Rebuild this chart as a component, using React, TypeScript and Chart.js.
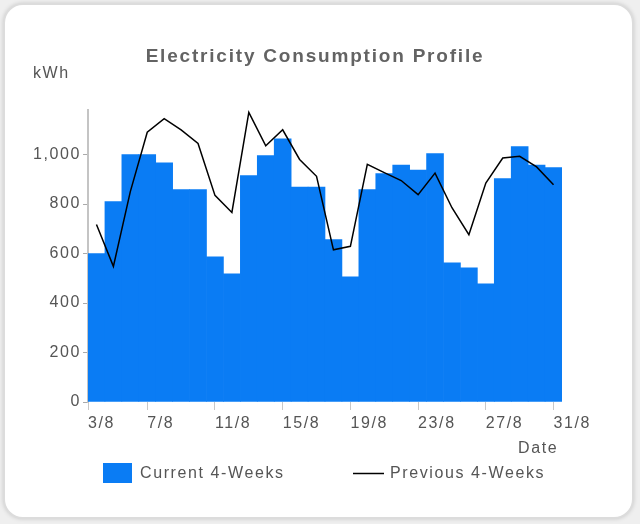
import React, { useEffect, useRef } from 'react';
import { Chart, registerables } from 'chart.js';

Chart.register(...registerables);

// ---- data ----
const days = [4, 5, 6, 7, 8, 9, 10, 11, 12, 13, 14, 15, 16, 17, 18, 19, 20, 21, 22, 23, 24, 25, 26, 27, 28, 29, 30, 31];
const currentKWh = [600, 810, 1000, 1000, 967, 858, 858, 587, 518, 915, 996, 1063, 869, 869, 656, 506, 858, 923, 957, 937, 1004, 562, 542, 478, 903, 1032, 957, 947];
const previousKWh = [717, 548, 850, 1090, 1145, 1100, 1045, 835, 766, 1170, 1035, 1100, 980, 912, 615, 629, 960, 927, 895, 838, 925, 785, 676, 885, 986, 993, 950, 878];
const xTickDays = [3, 7, 11, 15, 19, 23, 27, 31];
const xTickLabels = ['3/8', '7/8', '11/8', '15/8', '19/8', '23/8', '27/8', '31/8'];
const yTickValues = [0, 200, 400, 600, 800, 1000];
const seriesNames = ['Current 4-Weeks', 'Previous 4-Weeks'];
const titleText = 'Electricity Consumption Profile';
const yAxisTitle = 'kWh';
const xAxisTitle = 'Date';

const BAR_COLOR = '#0a7cf4';
const FONT = '"Liberation Sans", Arial, sans-serif';
const TEXT_COLOR = '#555555';

const decorPlugin = {
  id: 'decor',
  beforeDraw(chart: any) {
    chart.ctx.letterSpacing = '1.6px';
  },
  afterDraw(chart: any) {
    const ctx = chart.ctx;
    const area = chart.chartArea;
    ctx.save();
    ctx.letterSpacing = '1.8px';
    ctx.font = `bold 19px ${FONT}`;
    ctx.fillStyle = '#636363';
    ctx.textAlign = 'center';
    ctx.textBaseline = 'middle';
    ctx.fillText(titleText, 315, 57);

    ctx.letterSpacing = '1.6px';
    ctx.font = `16px ${FONT}`;
    ctx.fillStyle = TEXT_COLOR;
    ctx.textAlign = 'left';
    ctx.fillText(yAxisTitle, 33, 74);
    ctx.fillText(xAxisTitle, area.right - 44, 449);

    // legend
    ctx.fillStyle = BAR_COLOR;
    ctx.fillRect(103, 463, 29, 20);
    ctx.fillStyle = TEXT_COLOR;
    ctx.fillText(seriesNames[0], 140, 474);
    ctx.strokeStyle = '#000';
    ctx.lineWidth = 1.5;
    ctx.beginPath();
    ctx.moveTo(353, 473.5);
    ctx.lineTo(384, 473.5);
    ctx.stroke();
    ctx.fillStyle = TEXT_COLOR;
    ctx.fillText(seriesNames[1], 390, 474);
    ctx.restore();
  },
};

export default function App() {
  const ref = useRef<HTMLCanvasElement | null>(null);

  useEffect(() => {
    if (!ref.current) return;
    const chart = new Chart(ref.current, {
      type: 'bar',
      data: {
        datasets: [
          {
            type: 'line',
            label: seriesNames[1],
            data: days.map((d, i) => ({ x: d, y: previousKWh[i] })),
            borderColor: '#000000',
            borderWidth: 1.5,
            pointRadius: 0,
            tension: 0,
            fill: false,
            order: 0,
          } as any,
          {
            type: 'bar',
            label: seriesNames[0],
            data: days.map((d, i) => ({ x: d, y: currentKWh[i] })),
            backgroundColor: BAR_COLOR,
            borderWidth: 0,
            barPercentage: 1,
            categoryPercentage: 1,
            order: 1,
          } as any,
        ],
      },
      options: {
        responsive: false,
        animation: false,
        devicePixelRatio: 1,
        layout: { padding: { left: 0, top: 110, right: 78, bottom: 92 } },
        plugins: {
          legend: { display: false },
          title: { display: false },
          tooltip: { enabled: false },
        },
        scales: {
          x: {
            type: 'linear',
            min: 3.5,
            max: 31.5,
            offset: false,
            afterBuildTicks: (s: any) => {
              s.ticks = xTickDays.map((d, i) => ({ value: i === 0 ? s.min : d }));
            },
            afterFit: (s: any) => {
              s.height = 30;
            },
            ticks: {
              autoSkip: false,
              align: 'start',
              padding: 4,
              maxRotation: 0,
              color: TEXT_COLOR,
              font: { family: FONT, size: 16 },
              callback: (_v: any, i: number) => xTickLabels[i],
            },
            grid: { drawOnChartArea: false, tickLength: 8, color: '#c8c8c8', offset: false },
            border: { display: false },
          },
          y: {
            min: 0,
            max: 1180,
            afterBuildTicks: (s: any) => {
              s.ticks = yTickValues.map((v) => ({ value: v }));
            },
            afterFit: (s: any) => {
              s.width = 88;
            },
            ticks: {
              padding: 2,
              color: TEXT_COLOR,
              font: { family: FONT, size: 16 },
              callback: (v: any) => Number(v).toLocaleString('en-US'),
            },
            grid: { drawOnChartArea: false, tickLength: 5, color: '#aaaaaa' },
            border: { display: true, color: '#c4c4c4', width: 2 },
          },
        },
      } as any,
      plugins: [decorPlugin],
    });
    return () => chart.destroy();
  }, []);

  return (
    <div style={{ position: 'absolute', left: 0, top: 0, width: 640, height: 524, background: '#efefef', overflow: 'hidden' }}>
      <div
        style={{
          position: 'absolute',
          left: 3,
          top: 3,
          width: 631,
          height: 516,
          background: '#ffffff',
          border: '2px solid #dcdcdc',
          borderRadius: 20,
          boxShadow: '0 0 4px rgba(0,0,0,0.15)',
          boxSizing: 'border-box',
        }}
      />
      <canvas ref={ref} width={640} height={524} style={{ position: 'absolute', left: 0, top: 0, width: 640, height: 524 }} />
    </div>
  );
}
